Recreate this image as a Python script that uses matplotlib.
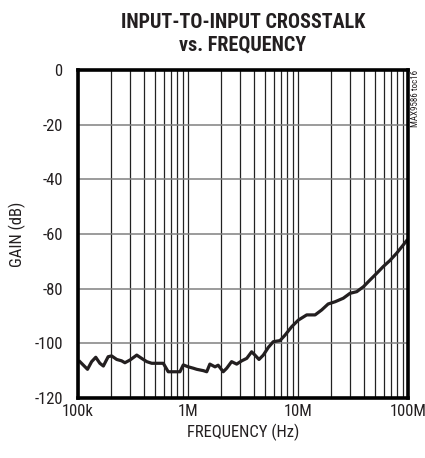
import matplotlib
matplotlib.use("Agg")
import matplotlib.pyplot as plt
from matplotlib.ticker import FixedLocator, NullFormatter, LogLocator

plt.rcParams['font.family'] = ['Roboto Condensed', 'Archivo Narrow', 'DejaVu Sans']

title = "INPUT-TO-INPUT CROSSTALK\nvs. FREQUENCY"
xlabel = "FREQUENCY (Hz)"
ylabel = "GAIN (dB)"
side_note = "MAX9586 toc16"

xticks = [1e5, 1e6, 1e7, 1e8]
xtick_labels = ["100k", "1M", "10M", "100M"]
yticks = [0, -20, -40, -60, -80, -100, -120]
ytick_labels = ["0", "-20", "-40", "-60", "-80", "-100", "-120"]

freq_hz = [104e3, 122e3, 133e3, 145e3, 158e3, 170e3, 188e3, 202e3, 225e3, 249e3,
           267e3, 297e3, 342e3, 379e3, 422e3, 468e3, 537e3, 596e3, 661e3, 762e3,
           845e3, 906e3, 1.007e6, 1.117e6, 1.20e6, 1.38e6, 1.48e6, 1.58e6, 1.76e6,
           1.88e6, 2.09e6, 2.25e6, 2.49e6, 2.77e6, 3.08e6, 3.42e6, 3.79e6, 4.06e6,
           4.42e6, 4.84e6, 5.37e6, 5.96e6, 6.86e6, 7.62e6, 8.77e6, 10.07e6, 12.0e6,
           14.3e6, 16.4e6, 18.8e6, 21.7e6, 25.8e6, 29.7e6, 34.2e6, 39.3e6, 45.2e6,
           51.9e6, 59.6e6, 68.5e6, 78.9e6, 90.6e6, 97.3e6]
gain_db = [-106.7, -109.5, -106.7, -105.1, -107.3, -108.3, -104.9, -104.6, -105.9, -106.4,
           -107.1, -106.1, -104.3, -105.5, -106.7, -107.3, -107.3, -107.3, -110.4, -110.4,
           -110.4, -107.9, -108.6, -109.1, -109.5, -110.0, -110.4, -107.6, -108.6,
           -108.0, -110.4, -109.1, -106.7, -107.6, -106.4, -105.5, -103.1, -104.3,
           -105.9, -104.3, -101.5, -99.4, -99.0, -97.0, -93.9, -91.5, -89.6,
           -89.6, -87.8, -85.6, -84.8, -83.5, -81.7, -81.1, -79.3, -76.8,
           -74.4, -71.9, -69.7, -67.0, -64.0, -62.4]

fig = plt.figure(figsize=(4.25, 4.58), dpi=100)
ax = fig.add_axes([78/425, 1 - 398/458, 330/425, 328/458])

ax.set_xscale('log')
ax.set_xlim(1e5, 1e8)
ax.set_ylim(-120, 0)

ax.plot(freq_hz, gain_db, color='#231f20', lw=2.3, solid_joinstyle='round', zorder=3)

ax.xaxis.set_major_locator(FixedLocator(xticks))
ax.set_xticklabels(xtick_labels)
ax.xaxis.set_minor_locator(LogLocator(base=10, subs=range(2, 10), numticks=20))
ax.xaxis.set_minor_formatter(NullFormatter())
ax.set_yticks(yticks)
ax.set_yticklabels(ytick_labels)

ax.grid(True, which='both', axis='x', color='#222222', lw=0.9)
ax.grid(True, which='major', axis='y', color='#808080', lw=1.1)
ax.tick_params(which='both', length=0)
ax.tick_params(axis='y', pad=11, labelsize=12, colors='#231f20')
ax.tick_params(axis='x', pad=4, labelsize=12, colors='#231f20')

for s in ax.spines.values():
    s.set_linewidth(2.6)
    s.set_color('black')
    s.set_zorder(4)

ax.set_xlabel(xlabel, fontsize=12, labelpad=4, color='#231f20')
ax.set_ylabel(ylabel, fontsize=12, labelpad=6, color='#231f20')
ax.set_title(title, fontsize=14.5, fontweight='heavy', linespacing=1.25, pad=14, color='#231f20')

fig.text(416/425, 1 - 70/458, side_note, rotation=90, ha='center', va='top', fontsize=6.5, color='#231f20')

fig.savefig("out.png", dpi=100)
